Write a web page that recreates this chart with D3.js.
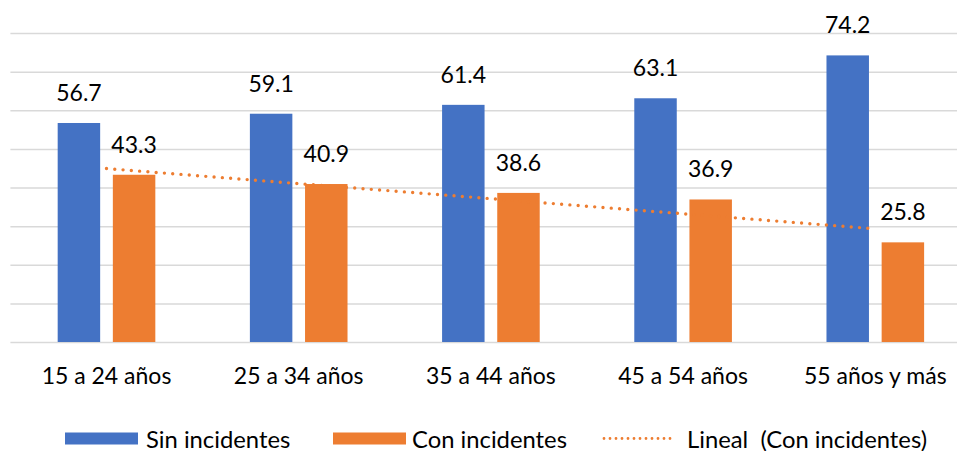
<!DOCTYPE html>
<meta charset="utf-8">
<style>
  body { margin: 0; background: #fff; }
  text { font-family: Lato, "Open Sans", sans-serif; fill: #000; white-space: pre; }
</style>
<svg width="957" height="451"></svg>

<script src="https://d3js.org/d3.v7.min.js"></script>
<script>
// data
var categories = ['15 a 24 años', '25 a 34 años', '35 a 44 años', '45 a 54 años', '55 años y más'];
var seriesNames = ['Sin incidentes', 'Con incidentes'];
var sinIncidentes = [56.7, 59.1, 61.4, 63.1, 74.2];
var conIncidentes = [43.3, 40.9, 38.6, 36.9, 25.8];
var trendLabel = 'Lineal  (Con incidentes)';
var colors = ['#4472C4', '#ED7D31'];

var svg = d3.select('svg');
var plotLeft = 10.4, plotRight = 971.4, plotTop = 33, plotBottom = 342;

var x0 = d3.scaleBand().domain(categories).range([plotLeft, plotRight])
  .paddingInner(0.492).paddingOuter(0.246);
var x1 = d3.scaleBand().domain(seriesNames).range([0, x0.bandwidth()]).paddingInner(0.23);
var y = d3.scaleLinear().domain([0, 80]).range([plotBottom, plotTop]);

// gridlines
var grid = svg.append('g').attr('transform', 'translate(' + plotLeft + ',0)')
  .call(d3.axisLeft(y).tickValues(d3.range(0, 81, 10)).tickSize(-(plotRight - plotLeft)).tickFormat(''));
grid.select('.domain').remove();
grid.selectAll('line').attr('stroke', '#d9d9d9').attr('stroke-width', 1.5);

// bars
var rows = categories.map(function (c, i) {
  return { cat: c, values: [sinIncidentes[i], conIncidentes[i]] };
});
var groups = svg.append('g').selectAll('g').data(rows).enter().append('g')
  .attr('transform', function (d) { return 'translate(' + x0(d.cat) + ',0)'; });

groups.selectAll('rect')
  .data(function (d) { return d.values.map(function (v, j) { return { s: seriesNames[j], v: v, j: j }; }); })
  .enter().append('rect')
  .attr('x', function (d) { return x1(d.s); })
  .attr('y', function (d) { return y(d.v); })
  .attr('width', x1.bandwidth())
  .attr('height', function (d) { return plotBottom - y(d.v); })
  .attr('fill', function (d) { return colors[d.j]; });

// linear trend of "Con incidentes" (least squares, as the spreadsheet does)
var n = conIncidentes.length;
var mx = (n + 1) / 2, my = d3.mean(conIncidentes);
var sxy = d3.sum(conIncidentes, function (v, i) { return (i + 1 - mx) * (v - my); });
var sxx = d3.sum(conIncidentes, function (v, i) { return (i + 1 - mx) * (i + 1 - mx); });
var slope = sxy / sxx, icpt = my - slope * mx;
var trend = categories.map(function (c, i) { return { cat: c, v: icpt + slope * (i + 1) }; });

svg.append('path')
  .datum(trend)
  .attr('fill', 'none')
  .attr('stroke', colors[1])
  .attr('stroke-width', 3.4)
  .attr('stroke-linecap', 'round')
  .attr('stroke-dasharray', '0 8.3')
  .attr('d', d3.line()
    .x(function (d) { return x0(d.cat) + x0.bandwidth() / 2; })
    .y(function (d) { return y(d.v); }));

// value labels
groups.selectAll('text.val')
  .data(function (d) { return d.values.map(function (v, j) { return { s: seriesNames[j], v: v }; }); })
  .enter().append('text').attr('class', 'val')
  .attr('x', function (d) { return x1(d.s) + x1.bandwidth() / 2; })
  .attr('y', function (d) { return y(d.v) - 22; })
  .attr('text-anchor', 'middle')
  .attr('font-size', 23)
  .text(function (d) { return d.v.toFixed(1); });

// category labels
svg.append('g').selectAll('text').data(categories).enter().append('text')
  .attr('x', function (d) { return x0(d) + x0.bandwidth() / 2; })
  .attr('y', 384)
  .attr('text-anchor', 'middle')
  .attr('font-size', 23)
  .text(function (d) { return d; });

// legend
var legend = svg.append('g');
var items = [
  { label: seriesNames[0], type: 'rect', color: colors[0], x: 65, tx: 146 },
  { label: seriesNames[1], type: 'rect', color: colors[1], x: 333, tx: 412 },
  { label: trendLabel, type: 'dot', color: colors[1], x: 604, tx: 687 }
];
items.forEach(function (it) {
  if (it.type === 'rect') {
    legend.append('rect').attr('x', it.x).attr('y', 432.5).attr('width', 73).attr('height', 12)
      .attr('fill', it.color);
  } else {
    legend.append('line').attr('x1', it.x).attr('x2', it.x + 68).attr('y1', 438.5).attr('y2', 438.5)
      .attr('stroke', it.color).attr('stroke-width', 2.8).attr('stroke-linecap', 'round')
      .attr('stroke-dasharray', '0 6');
  }
  legend.append('text').attr('x', it.tx).attr('y', 447.5).attr('font-size', 23.8).text(it.label);
});
</script>
